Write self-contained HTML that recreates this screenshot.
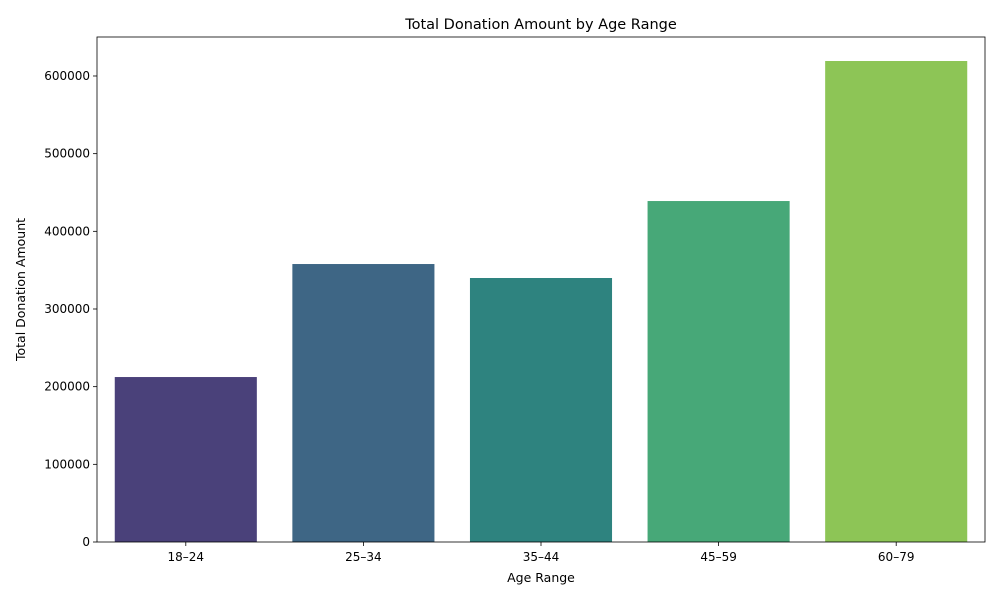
<!DOCTYPE html>
<html><head><meta charset="utf-8"><style>
body{margin:0;background:#fff;font-family:"Liberation Sans","DejaVu Sans",sans-serif;}
svg text{font-family:"DejaVu Sans","Liberation Sans",sans-serif;}
</style></head><body>
<svg id="chart" width="1000" height="600"></svg>
<script>
const categories=["18–24","25–34","35–44","45–59","60–79"];
const values=[212400,357900,339900,439000,619300];
const colors=["#4a417a","#3e6685","#2e837f","#47a878","#8dc556"];
const yTicks=[0,100000,200000,300000,400000,500000,600000];
const NS="http://www.w3.org/2000/svg";
const svg=document.getElementById('chart');
const L=97,R=985,T=37,B=542,yMax=650200;
const x=i=>L+(i+0.5)*(R-L)/categories.length;
const y=v=>B-v/yMax*(B-T);
const bw=0.8*(R-L)/categories.length;
function el(t,a,txt){const e=document.createElementNS(NS,t);for(const k in a)e.setAttribute(k,a[k]);if(txt!==undefined)e.textContent=txt;svg.appendChild(e);return e;}
categories.forEach((c,i)=>{
 const r=el('rect',{x:x(i)-bw/2,y:y(values[i]),width:bw,height:B-y(values[i]),fill:colors[i]});
 
 
 el('line',{x1:x(i),x2:x(i),y1:B,y2:B+4,stroke:'#000','stroke-width':0.8});
 const t=el('text',{x:x(i),y:B+19,'text-anchor':'middle','font-size':12},c);
 
 
});
yTicks.forEach(v=>{
 el('line',{x1:L-4,x2:L,y1:y(v),y2:y(v),stroke:'#000','stroke-width':0.8});
 const t=el('text',{x:L-7,y:y(v)+4,'text-anchor':'end','font-size':12},String(v));
 
 
});
const f=el('rect',{x:L,y:T,width:R-L,height:B-T,fill:'none',stroke:'#000','stroke-width':0.8});


const tt=el('text',{x:(L+R)/2,y:29,'text-anchor':'middle','font-size':14.5},'Total Donation Amount by Age Range');


const xt=el('text',{x:(L+R)/2,y:582,'text-anchor':'middle','font-size':12.5},'Age Range');


const yt=el('text',{x:25,y:(T+B)/2,'text-anchor':'middle','font-size':12.5,transform:`rotate(-90 25 ${(T+B)/2})`},'Total Donation Amount');


</script>
</body></html>
